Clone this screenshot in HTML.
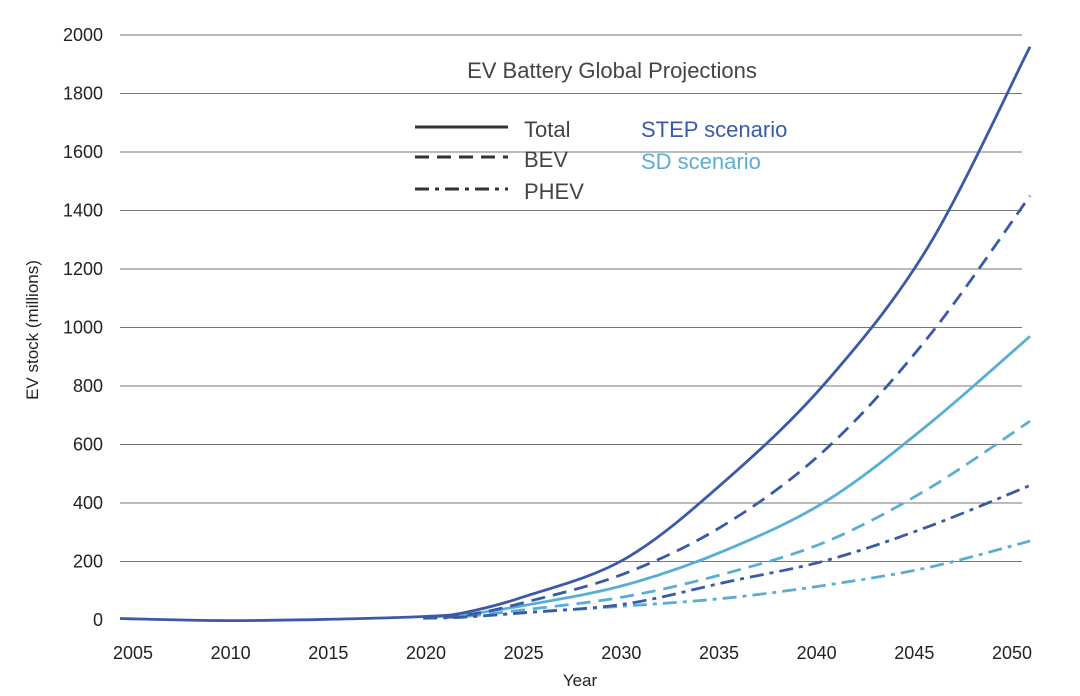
<!DOCTYPE html>
<html><head><meta charset="utf-8"><style>
body{margin:0;background:#fff;}
svg{display:block;font-family:"Liberation Sans",sans-serif;}
</style></head><body>
<svg id="chart" width="1080" height="696"></svg>
<script>
const years=[2005,2010,2015,2020,2022,2025,2030,2035,2040,2045,2050];
const stepTotal=[5,-2,2,12,25,80,210,480,820,1280,1960];
const stepBEV=[null,null,null,8,15,60,160,330,590,970,1450];
const stepPHEV=[null,null,null,6,10,25,55,130,205,320,460];
const sdTotal=[null,null,null,10,18,50,120,240,410,670,970];
const sdBEV=[null,null,null,8,12,35,80,160,270,450,680];
const sdPHEV=[null,null,null,6,10,25,48,75,120,180,270];
const yTicks=[0,200,400,600,800,1000,1200,1400,1600,1800,2000];
const xTicks=[2005,2010,2015,2020,2025,2030,2035,2040,2045,2050];
const NS="http://www.w3.org/2000/svg";
const svg=document.getElementById('chart');
const X=v=>120+(v-2005)*(1030-120)/45;
const XL=v=>133+(v-2005)*(1012-133)/45;
const Y=v=>620-v*(585/2000);
function mk(t,a,p){const e=document.createElementNS(NS,t);for(const k in a)e.setAttribute(k,a[k]);(p||svg).appendChild(e);return e;}
yTicks.forEach(v=>{
  if(v>0){const g=mk('line',{x1:120,x2:1022,y1:Y(v),y2:Y(v),stroke:'#777','stroke-width':1});
  
  }
  const t=mk('text',{x:103,y:Y(v)+6,'text-anchor':'end','font-size':18,fill:'#222'});t.textContent=v;
  
  
});
xTicks.forEach(v=>{
  const t=mk('text',{x:XL(v),y:659,'text-anchor':'middle','font-size':18,fill:'#222'});t.textContent=v;
  
  
});
function path(vals){
  const pts=[];vals.forEach((v,i)=>{if(v!==null)pts.push([X(years[i]),Y(v)]);});
  let d='M'+pts[0][0]+','+pts[0][1];
  for(let i=0;i<pts.length-1;i++){
    const p0=pts[Math.max(0,i-1)],p1=pts[i],p2=pts[i+1],p3=pts[Math.min(pts.length-1,i+2)];
    const c1=[p1[0]+(p2[0]-p0[0])/6,p1[1]+(p2[1]-p0[1])/6];
    const c2=[p2[0]-(p3[0]-p1[0])/6,p2[1]-(p3[1]-p1[1])/6];
    d+=` C${c1[0]},${c1[1]} ${c2[0]},${c2[1]} ${p2[0]},${p2[1]}`;
  }
  return d;
}
const dark='#3b5aa6',light='#5aaed2';
const series=[[sdPHEV,light,'14,6,4,6','sd-phev-line'],[sdBEV,light,'14,8','sd-bev-line'],[sdTotal,light,'','sd-total-line'],
[stepPHEV,dark,'14,6,4,6','step-phev-line'],[stepBEV,dark,'14,8','step-bev-line'],[stepTotal,dark,'','step-total-line']];
series.forEach(s=>{
  const p=mk('path',{d:path(s[0]),fill:'none',stroke:s[1],'stroke-width':2.8,'stroke-dasharray':s[2]});
  
  
});
function txt(x,y,s,size,fill,name,anchor,rot){
  const t=mk('text',{x:x,y:y,'font-size':size,fill:fill,'text-anchor':anchor||'start'});
  if(rot)t.setAttribute('transform',rot);t.textContent=s;
  
  
}
txt(612,78,'EV Battery Global Projections',22,'#444','chart-title','middle');
txt(580,686,'Year',17,'#222','x-axis-title','middle');
txt(38,330,'EV stock (millions)',17,'#222','y-axis-title','middle','rotate(-90 38 330)');
const lg=[['','Total',130],['14,8','BEV',160],['14,6,4,6','PHEV',192]];
lg.forEach(l=>{
  const ln=mk('line',{x1:415,x2:508,y1:l[2]-3,y2:l[2]-3,stroke:'#333','stroke-width':3,'stroke-dasharray':l[0]});
  
  
  txt(524,l[2]+7,l[1],22,'#444','legend-'+l[1].toLowerCase());
});
txt(641,137,'STEP scenario',22,dark,'legend-step-scenario');
txt(641,169,'SD scenario',22,light,'legend-sd-scenario');
</script>
</body></html>
